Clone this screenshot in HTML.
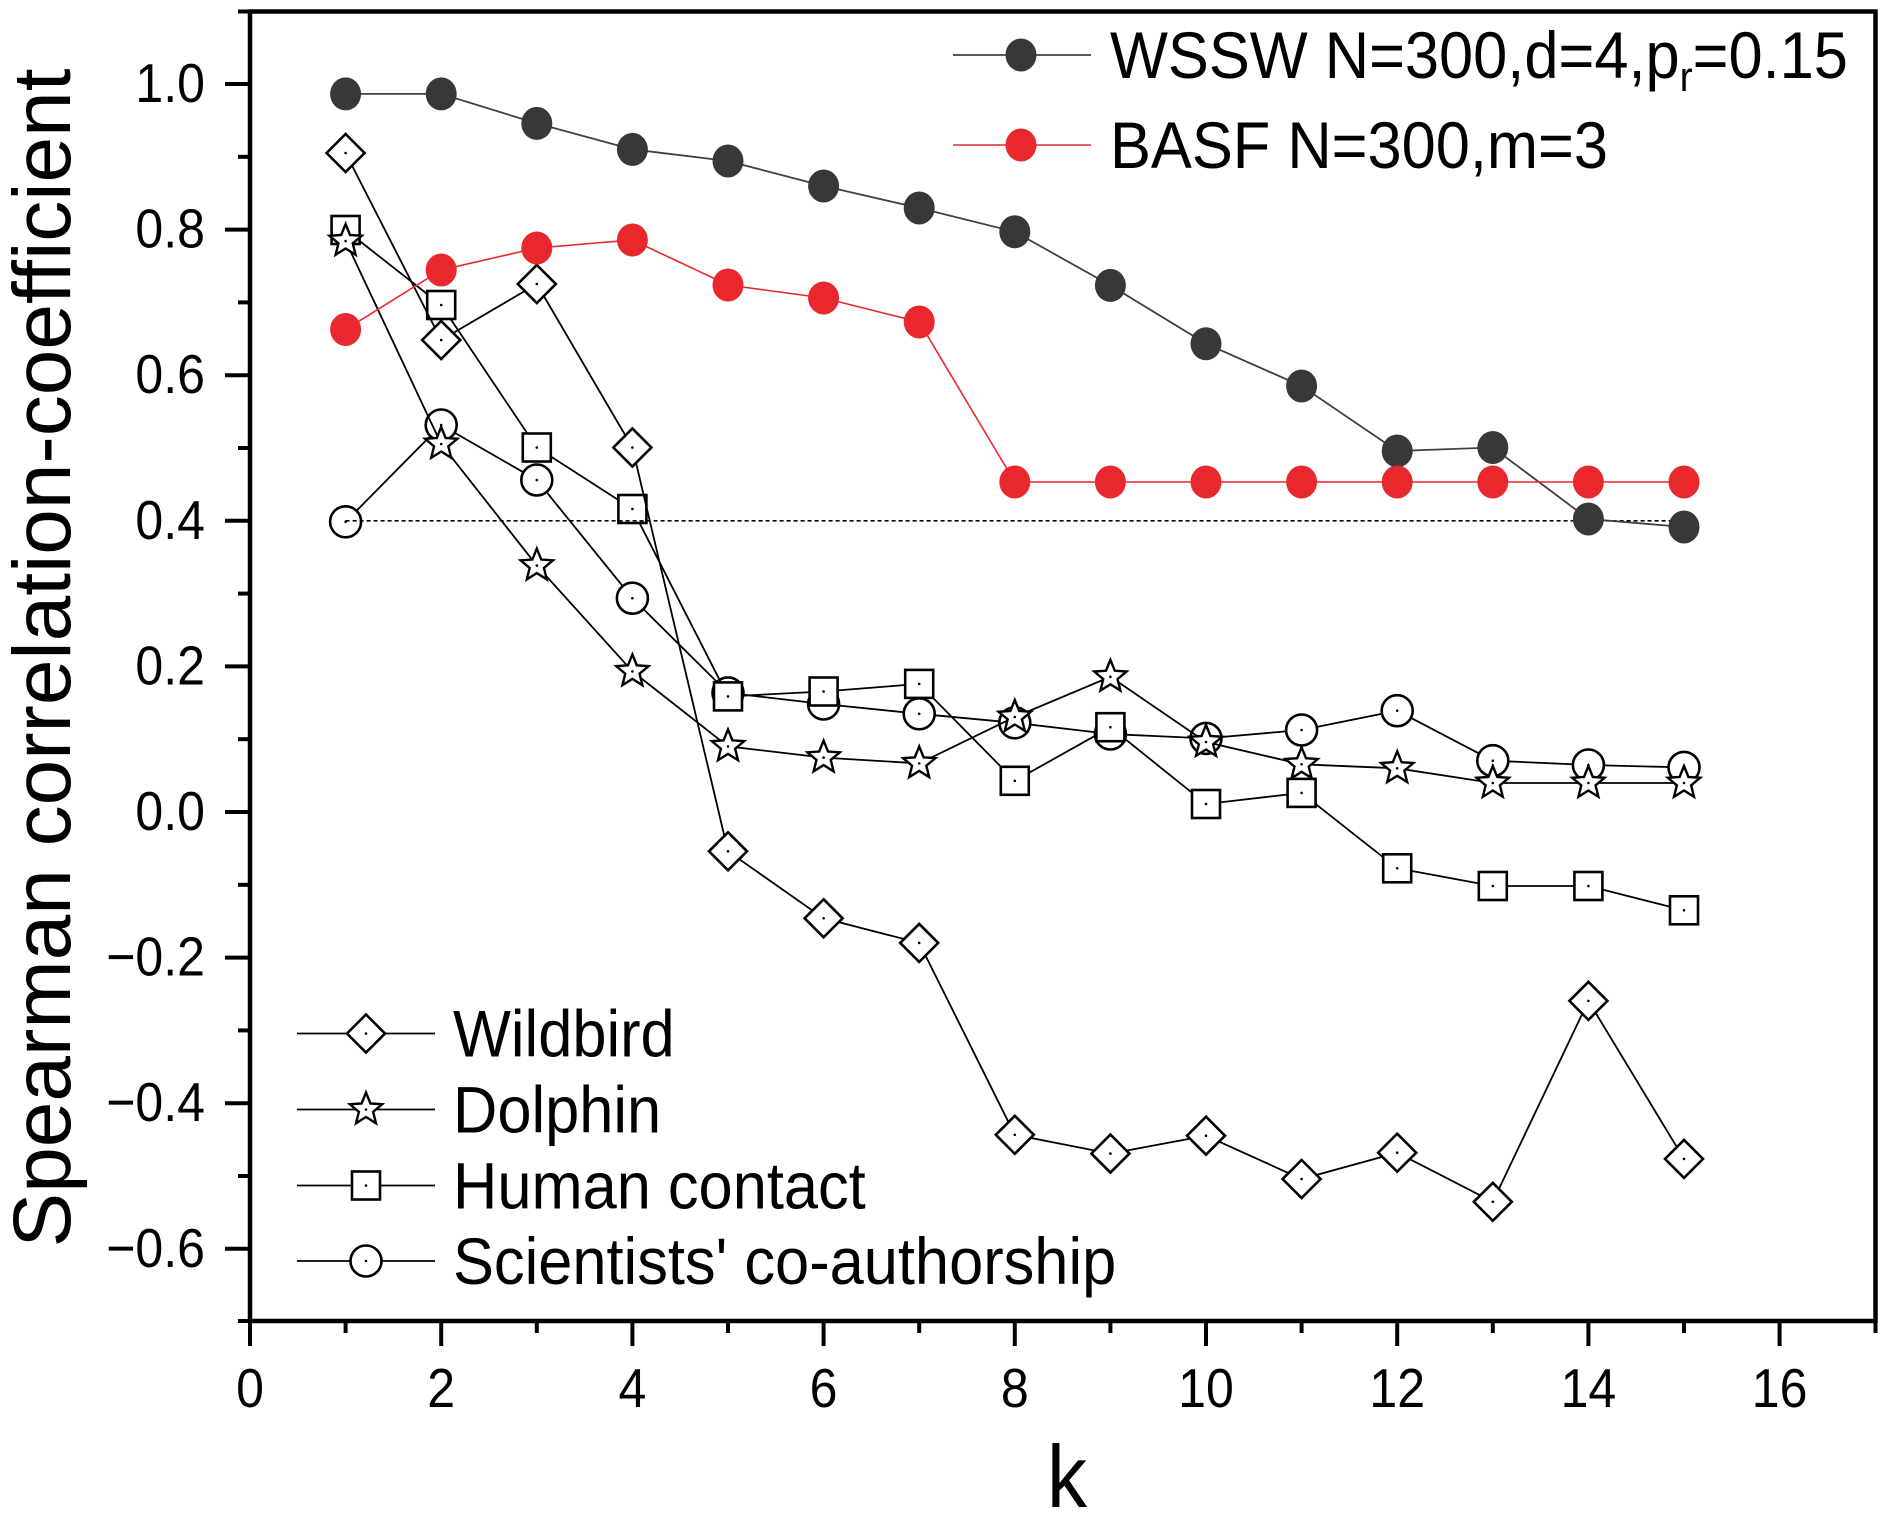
<!DOCTYPE html>
<html><head><meta charset="utf-8"><style>html,body{margin:0;padding:0;background:#fff}svg{display:block}</style></head>
<body>
<svg width="1883" height="1520" viewBox="0 0 1883 1520" xmlns="http://www.w3.org/2000/svg" font-family="'Liberation Sans', Arial, sans-serif">
<defs>
<path id="dia" d="M0,-19 L19,0 L0,19 L-19,0 Z" fill="#fff" stroke="#000" stroke-width="2.6"/>
<rect id="sq" x="-14" y="-14" width="28" height="28" fill="#fff" stroke="#000" stroke-width="2.6"/>
<circle id="ci" r="15.5" fill="#fff" stroke="#000" stroke-width="2.6"/>
<path id="st" d="M0,-17 L4.41,-6.07 L16.17,-5.25 L7.13,2.32 L9.99,13.75 L0,7.5 L-9.99,13.75 L-7.13,2.32 L-16.17,-5.25 L-4.41,-6.07 Z" fill="#fff" stroke="#000" stroke-width="2.4" stroke-linejoin="miter"/>
<circle id="dot" r="1.3" fill="#000"/>
<ellipse id="bk" rx="15.5" ry="16.5" fill="#383838"/>
<ellipse id="rd" rx="15.5" ry="16.5" fill="#e8282d"/>
</defs>
<rect width="1883" height="1520" fill="#fff"/>

<!-- Scientists -->
<polyline fill="none" stroke="#000" stroke-width="1.8" points="345.6,521.8 441.2,425 536.8,480 632.4,598.2 728,692.9 823.6,704 919.2,713.8 1014.8,722.8 1110.4,734 1206,738.4 1301.6,730 1397.2,710.7 1492.8,760.7 1588.4,765 1684,767.4"/>
<g>
<use href="#ci" x="345.6" y="521.8"/><use href="#ci" x="441.2" y="425"/><use href="#ci" x="536.8" y="480"/><use href="#ci" x="632.4" y="598.2"/><use href="#ci" x="728" y="692.9"/><use href="#ci" x="823.6" y="704"/><use href="#ci" x="919.2" y="713.8"/><use href="#ci" x="1014.8" y="722.8"/><use href="#ci" x="1110.4" y="734"/><use href="#ci" x="1206" y="738.4"/><use href="#ci" x="1301.6" y="730"/><use href="#ci" x="1397.2" y="710.7"/><use href="#ci" x="1492.8" y="760.7"/><use href="#ci" x="1588.4" y="765"/><use href="#ci" x="1684" y="767.4"/>
<use href="#dot" x="345.6" y="521.8"/><use href="#dot" x="441.2" y="425"/><use href="#dot" x="536.8" y="480"/><use href="#dot" x="632.4" y="598.2"/><use href="#dot" x="728" y="692.9"/><use href="#dot" x="823.6" y="704"/><use href="#dot" x="919.2" y="713.8"/><use href="#dot" x="1014.8" y="722.8"/><use href="#dot" x="1110.4" y="734"/><use href="#dot" x="1206" y="738.4"/><use href="#dot" x="1301.6" y="730"/><use href="#dot" x="1397.2" y="710.7"/><use href="#dot" x="1492.8" y="760.7"/><use href="#dot" x="1588.4" y="765"/><use href="#dot" x="1684" y="767.4"/>
</g>

<!-- Human contact -->
<polyline fill="none" stroke="#000" stroke-width="1.8" points="345.6,230 441.2,305 536.8,447.5 632.4,509 728,696.4 823.6,691.5 919.2,683.9 1014.8,780.8 1110.4,727.2 1206,804 1301.6,792.9 1397.2,868.3 1492.8,886 1588.4,886 1684,910.3"/>
<g>
<use href="#sq" x="345.6" y="230"/><use href="#sq" x="441.2" y="305"/><use href="#sq" x="536.8" y="447.5"/><use href="#sq" x="632.4" y="509"/><use href="#sq" x="728" y="696.4"/><use href="#sq" x="823.6" y="691.5"/><use href="#sq" x="919.2" y="683.9"/><use href="#sq" x="1014.8" y="780.8"/><use href="#sq" x="1110.4" y="727.2"/><use href="#sq" x="1206" y="804"/><use href="#sq" x="1301.6" y="792.9"/><use href="#sq" x="1397.2" y="868.3"/><use href="#sq" x="1492.8" y="886"/><use href="#sq" x="1588.4" y="886"/><use href="#sq" x="1684" y="910.3"/>
<use href="#dot" x="345.6" y="230"/><use href="#dot" x="441.2" y="305"/><use href="#dot" x="536.8" y="447.5"/><use href="#dot" x="632.4" y="509"/><use href="#dot" x="728" y="696.4"/><use href="#dot" x="823.6" y="691.5"/><use href="#dot" x="919.2" y="683.9"/><use href="#dot" x="1014.8" y="780.8"/><use href="#dot" x="1110.4" y="727.2"/><use href="#dot" x="1206" y="804"/><use href="#dot" x="1301.6" y="792.9"/><use href="#dot" x="1397.2" y="868.3"/><use href="#dot" x="1492.8" y="886"/><use href="#dot" x="1588.4" y="886"/><use href="#dot" x="1684" y="910.3"/>
</g>

<!-- Dolphin -->
<polyline fill="none" stroke="#000" stroke-width="1.8" points="345.6,241 441.2,444 536.8,565.6 632.4,671.4 728,746.4 823.6,757.6 919.2,763.4 1014.8,717 1110.4,676.8 1206,742 1301.6,764.3 1397.2,768.3 1492.8,783 1588.4,783 1684,783"/>
<g>
<use href="#st" x="345.6" y="241"/><use href="#st" x="441.2" y="444"/><use href="#st" x="536.8" y="565.6"/><use href="#st" x="632.4" y="671.4"/><use href="#st" x="728" y="746.4"/><use href="#st" x="823.6" y="757.6"/><use href="#st" x="919.2" y="763.4"/><use href="#st" x="1014.8" y="717"/><use href="#st" x="1110.4" y="676.8"/><use href="#st" x="1206" y="742"/><use href="#st" x="1301.6" y="764.3"/><use href="#st" x="1397.2" y="768.3"/><use href="#st" x="1492.8" y="783"/><use href="#st" x="1588.4" y="783"/><use href="#st" x="1684" y="783"/>
<use href="#dot" x="345.6" y="241"/><use href="#dot" x="441.2" y="444"/><use href="#dot" x="536.8" y="565.6"/><use href="#dot" x="632.4" y="671.4"/><use href="#dot" x="728" y="746.4"/><use href="#dot" x="823.6" y="757.6"/><use href="#dot" x="919.2" y="763.4"/><use href="#dot" x="1014.8" y="717"/><use href="#dot" x="1110.4" y="676.8"/><use href="#dot" x="1206" y="742"/><use href="#dot" x="1301.6" y="764.3"/><use href="#dot" x="1397.2" y="768.3"/><use href="#dot" x="1492.8" y="783"/><use href="#dot" x="1588.4" y="783"/><use href="#dot" x="1684" y="783"/>
</g>

<!-- Wildbird -->
<polyline fill="none" stroke="#000" stroke-width="1.8" points="345.6,153 441.2,340 536.8,284 632.4,447.5 728,851.3 823.6,918.3 919.2,942.9 1014.8,1134.8 1110.4,1153.6 1206,1135.7 1301.6,1179 1397.2,1152.7 1492.8,1201.8 1588.4,1000.9 1684,1158.9"/>
<g>
<use href="#dia" x="345.6" y="153"/><use href="#dia" x="441.2" y="340"/><use href="#dia" x="536.8" y="284"/><use href="#dia" x="632.4" y="447.5"/><use href="#dia" x="728" y="851.3"/><use href="#dia" x="823.6" y="918.3"/><use href="#dia" x="919.2" y="942.9"/><use href="#dia" x="1014.8" y="1134.8"/><use href="#dia" x="1110.4" y="1153.6"/><use href="#dia" x="1206" y="1135.7"/><use href="#dia" x="1301.6" y="1179"/><use href="#dia" x="1397.2" y="1152.7"/><use href="#dia" x="1492.8" y="1201.8"/><use href="#dia" x="1588.4" y="1000.9"/><use href="#dia" x="1684" y="1158.9"/>
<use href="#dot" x="345.6" y="153"/><use href="#dot" x="441.2" y="340"/><use href="#dot" x="536.8" y="284"/><use href="#dot" x="632.4" y="447.5"/><use href="#dot" x="728" y="851.3"/><use href="#dot" x="823.6" y="918.3"/><use href="#dot" x="919.2" y="942.9"/><use href="#dot" x="1014.8" y="1134.8"/><use href="#dot" x="1110.4" y="1153.6"/><use href="#dot" x="1206" y="1135.7"/><use href="#dot" x="1301.6" y="1179"/><use href="#dot" x="1397.2" y="1152.7"/><use href="#dot" x="1492.8" y="1201.8"/><use href="#dot" x="1588.4" y="1000.9"/><use href="#dot" x="1684" y="1158.9"/>
</g>

<!-- dashed reference line at 0.4 -->
<line x1="345.6" y1="520.8" x2="1684" y2="520.8" stroke="#000" stroke-width="1.6" stroke-dasharray="4,3"/>

<!-- WSSW -->
<polyline fill="none" stroke="#404040" stroke-width="1.8" points="345.6,93.9 441.2,93.9 536.8,123.4 632.4,149.4 728,161 823.6,186 919.2,208 1014.8,231.8 1110.4,285.4 1206,343.7 1301.6,386 1397.2,451 1492.8,447.5 1588.4,519 1684,527"/>
<g>
<use href="#bk" x="345.6" y="93.9"/><use href="#bk" x="441.2" y="93.9"/><use href="#bk" x="536.8" y="123.4"/><use href="#bk" x="632.4" y="149.4"/><use href="#bk" x="728" y="161"/><use href="#bk" x="823.6" y="186"/><use href="#bk" x="919.2" y="208"/><use href="#bk" x="1014.8" y="231.8"/><use href="#bk" x="1110.4" y="285.4"/><use href="#bk" x="1206" y="343.7"/><use href="#bk" x="1301.6" y="386"/><use href="#bk" x="1397.2" y="451"/><use href="#bk" x="1492.8" y="447.5"/><use href="#bk" x="1588.4" y="519"/><use href="#bk" x="1684" y="527"/>
</g>

<!-- BASF -->
<polyline fill="none" stroke="#e8282d" stroke-width="1.6" points="345.6,329.5 441.2,270 536.8,248 632.4,240 728,285 823.6,298 919.2,322 1014.8,482 1110.4,482 1206,482 1301.6,482 1397.2,482 1492.8,482 1588.4,482 1684,482"/>
<g>
<use href="#rd" x="345.6" y="329.5"/><use href="#rd" x="441.2" y="270"/><use href="#rd" x="536.8" y="248"/><use href="#rd" x="632.4" y="240"/><use href="#rd" x="728" y="285"/><use href="#rd" x="823.6" y="298"/><use href="#rd" x="919.2" y="322"/><use href="#rd" x="1014.8" y="482"/><use href="#rd" x="1110.4" y="482"/><use href="#rd" x="1206" y="482"/><use href="#rd" x="1301.6" y="482"/><use href="#rd" x="1397.2" y="482"/><use href="#rd" x="1492.8" y="482"/><use href="#rd" x="1588.4" y="482"/><use href="#rd" x="1684" y="482"/>
</g>

<!-- frame -->
<rect x="250" y="11.5" width="1625.5" height="1309.5" fill="none" stroke="#000" stroke-width="4.5"/>

<!-- y ticks -->
<g stroke="#000" stroke-width="4">
<line x1="225" y1="84" x2="250" y2="84"/><line x1="225" y1="229.6" x2="250" y2="229.6"/><line x1="225" y1="375.2" x2="250" y2="375.2"/><line x1="225" y1="520.8" x2="250" y2="520.8"/><line x1="225" y1="666.4" x2="250" y2="666.4"/><line x1="225" y1="812" x2="250" y2="812"/><line x1="225" y1="957.6" x2="250" y2="957.6"/><line x1="225" y1="1103.2" x2="250" y2="1103.2"/><line x1="225" y1="1248.8" x2="250" y2="1248.8"/>
<line x1="238" y1="11.5" x2="250" y2="11.5"/><line x1="238" y1="156.8" x2="250" y2="156.8"/><line x1="238" y1="302.4" x2="250" y2="302.4"/><line x1="238" y1="448" x2="250" y2="448"/><line x1="238" y1="593.6" x2="250" y2="593.6"/><line x1="238" y1="739.2" x2="250" y2="739.2"/><line x1="238" y1="884.8" x2="250" y2="884.8"/><line x1="238" y1="1030.4" x2="250" y2="1030.4"/><line x1="238" y1="1176" x2="250" y2="1176"/><line x1="238" y1="1321" x2="250" y2="1321"/>
</g>
<!-- x ticks -->
<g stroke="#000" stroke-width="4">
<line x1="250" y1="1321" x2="250" y2="1346"/><line x1="441.2" y1="1321" x2="441.2" y2="1346"/><line x1="632.4" y1="1321" x2="632.4" y2="1346"/><line x1="823.6" y1="1321" x2="823.6" y2="1346"/><line x1="1014.8" y1="1321" x2="1014.8" y2="1346"/><line x1="1206" y1="1321" x2="1206" y2="1346"/><line x1="1397.2" y1="1321" x2="1397.2" y2="1346"/><line x1="1588.4" y1="1321" x2="1588.4" y2="1346"/><line x1="1779.6" y1="1321" x2="1779.6" y2="1346"/>
<line x1="345.6" y1="1321" x2="345.6" y2="1333"/><line x1="536.8" y1="1321" x2="536.8" y2="1333"/><line x1="728" y1="1321" x2="728" y2="1333"/><line x1="919.2" y1="1321" x2="919.2" y2="1333"/><line x1="1110.4" y1="1321" x2="1110.4" y2="1333"/><line x1="1301.6" y1="1321" x2="1301.6" y2="1333"/><line x1="1492.8" y1="1321" x2="1492.8" y2="1333"/><line x1="1684" y1="1321" x2="1684" y2="1333"/><line x1="1875.5" y1="1321" x2="1875.5" y2="1333"/>
</g>

<!-- y tick labels -->
<g font-size="55" text-anchor="end" fill="#000" transform="translate(205 0) scale(0.91 1)">
<text x="0" y="102">1.0</text>
<text x="0" y="247.6">0.8</text>
<text x="0" y="393.2">0.6</text>
<text x="0" y="538.8">0.4</text>
<text x="0" y="684.4">0.2</text>
<text x="0" y="830">0.0</text>
<text x="0" y="975.6">−0.2</text>
<text x="0" y="1121.2">−0.4</text>
<text x="0" y="1266.8">−0.6</text>
</g>
<!-- x tick labels -->
<g font-size="55" text-anchor="middle" fill="#000">
<text transform="translate(250 1407) scale(0.91 1)">0</text>
<text transform="translate(441.2 1407) scale(0.91 1)">2</text>
<text transform="translate(632.4 1407) scale(0.91 1)">4</text>
<text transform="translate(823.6 1407) scale(0.91 1)">6</text>
<text transform="translate(1014.8 1407) scale(0.91 1)">8</text>
<text transform="translate(1206 1407) scale(0.91 1)">10</text>
<text transform="translate(1397.2 1407) scale(0.91 1)">12</text>
<text transform="translate(1588.4 1407) scale(0.91 1)">14</text>
<text transform="translate(1779.6 1407) scale(0.91 1)">16</text>
</g>

<!-- axis titles -->
<text font-size="88" text-anchor="middle" transform="translate(1067 1507) scale(0.91 1)">k</text>
<text x="70" y="658" font-size="82" text-anchor="middle" transform="rotate(-90 70 658)">Spearman correlation-coefficient</text>

<!-- top legend -->
<line x1="953" y1="55" x2="1091" y2="55" stroke="#404040" stroke-width="1.8"/>
<use href="#bk" x="1021" y="55"/>
<line x1="953" y1="145" x2="1091" y2="145" stroke="#e8282d" stroke-width="1.6"/>
<use href="#rd" x="1021" y="145"/>
<g font-size="66" fill="#000" transform="translate(1110 0) scale(0.93 1)">
<text x="0" y="78">WSSW N=300,d=4,p<tspan font-size="42" dy="13">r</tspan><tspan dy="-13">=0.15</tspan></text>
<text x="0" y="168">BASF N=300,m=3</text>
</g>

<!-- bottom legend -->
<g stroke="#000" stroke-width="1.8">
<line x1="297" y1="1033.5" x2="435" y2="1033.5"/>
<line x1="297" y1="1109.5" x2="435" y2="1109.5"/>
<line x1="297" y1="1185.5" x2="435" y2="1185.5"/>
<line x1="297" y1="1261" x2="435" y2="1261"/>
</g>
<use href="#dia" x="366" y="1033.5"/><use href="#dot" x="366" y="1033.5"/>
<use href="#st" x="366" y="1109.5"/><use href="#dot" x="366" y="1109.5"/>
<use href="#sq" x="366" y="1185.5"/><use href="#dot" x="366" y="1185.5"/>
<use href="#ci" x="366" y="1261"/><use href="#dot" x="366" y="1261"/>
<g font-size="66" fill="#000" transform="translate(453 0) scale(0.93 1)">
<text x="0" y="1056.5">Wildbird</text>
<text x="0" y="1132.5">Dolphin</text>
<text x="0" y="1208.5">Human contact</text>
<text x="0" y="1284">Scientists' co-authorship</text>
</g>
</svg>
</body></html>
